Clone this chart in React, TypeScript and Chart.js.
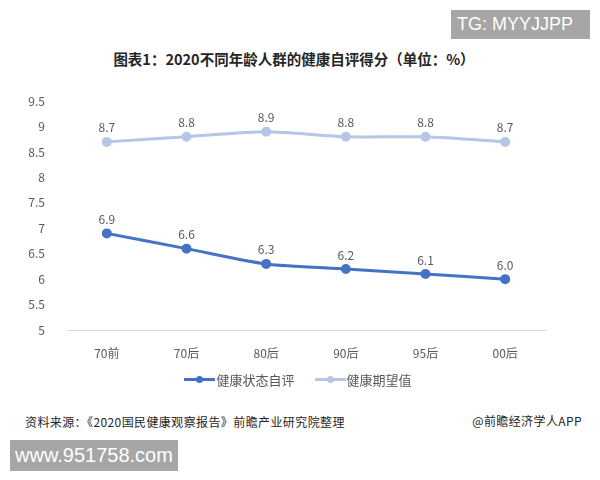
import { useEffect, useRef } from "react";
import Chart from "chart.js/auto";

const categories = ["70前", "70后", "80后", "90后", "95后", "00后"];
const selfRated = [6.9, 6.6, 6.3, 6.2, 6.1, 6.0];
const expected = [8.7, 8.8, 8.9, 8.8, 8.8, 8.7];
const yTicks = { min: 5, max: 9.5, step: 0.5 };

const DARK = "#4472c4";
const LIGHT = "#b4c7e7";
const FONT = "'Noto Sans CJK SC', 'Microsoft YaHei', sans-serif";

const valueLabels = {
  id: "valueLabels",
  afterDatasetsDraw(chart: Chart) {
    const { ctx } = chart;
    ctx.save();
    ctx.fillStyle = "#595959";
    ctx.font = `12px ${FONT}`;
    ctx.textAlign = "center";
    ctx.textBaseline = "bottom";
    chart.data.datasets.forEach((ds, i) => {
      const meta = chart.getDatasetMeta(i);
      meta.data.forEach((pt, j) => {
        const v = ds.data[j] as number;
        ctx.fillText(v.toFixed(1), pt.x, pt.y - 8);
      });
    });
    ctx.restore();
  },
};

function LegendItem({ color, label }: { color: string; label: string }) {
  return (
    <span style={{ display: "inline-flex", alignItems: "center", margin: "0 10px" }}>
      <span style={{ position: "relative", width: 31, height: 3, background: color, display: "inline-block" }}>
        <span
          style={{
            position: "absolute",
            left: 12,
            top: -2,
            width: 7,
            height: 7,
            borderRadius: "50%",
            background: color,
          }}
        />
      </span>
      <span style={{ marginLeft: 1 }}>{label}</span>
    </span>
  );
}

export default function App() {
  const ref = useRef<HTMLCanvasElement>(null);

  useEffect(() => {
    if (!ref.current) return;
    const chart = new Chart(ref.current, {
      type: "line",
      data: {
        labels: categories,
        datasets: [
          {
            label: "健康状态自评",
            data: selfRated,
            borderColor: DARK,
            backgroundColor: DARK,
            borderWidth: 3,
            pointRadius: 3.5,
            pointBackgroundColor: DARK,
            pointBorderColor: DARK,
            tension: 0.25,
          },
          {
            label: "健康期望值",
            data: expected,
            borderColor: LIGHT,
            backgroundColor: LIGHT,
            borderWidth: 3,
            pointRadius: 3.5,
            pointBackgroundColor: LIGHT,
            pointBorderColor: LIGHT,
            tension: 0.25,
          },
        ],
      },
      options: {
        animation: false,
        responsive: false,
        layout: { padding: { top: 15, right: 55, bottom: 0, left: 0 } },
        plugins: { legend: { display: false }, tooltip: { enabled: false } },
        scales: {
          x: {
            offset: true,
            grid: { display: false },
            border: { color: "#d9d9d9", width: 1 },
            ticks: { color: "#595959", font: { size: 12, family: FONT }, padding: 8 },
            afterFit: (s) => {
              s.height = 40;
            },
          },
          y: {
            min: yTicks.min,
            max: yTicks.max,
            grid: { display: false },
            border: { display: false },
            ticks: {
              stepSize: yTicks.step,
              color: "#595959",
              font: { size: 12, family: FONT },
              padding: 14,
              callback: (v) => String(Math.round(Number(v) * 10) / 10),
            },
            afterFit: (s) => {
              s.width = 67;
            },
          },
        },
      },
      plugins: [valueLabels],
    });
    return () => chart.destroy();
  }, []);

  return (
    <div
      style={{
        position: "fixed",
        left: 0,
        top: 0,
        width: 600,
        height: 480,
        background: "#fff",
        fontFamily: FONT,
        overflow: "hidden",
      }}
    >
      <div
        style={{
          position: "absolute",
          left: 451,
          top: 10,
          width: 139,
          height: 29,
          background: "#a6a6a6",
          color: "#fff",
          fontSize: 18,
          fontFamily: "'Liberation Sans', Arial, sans-serif",
          lineHeight: "29px",
          paddingLeft: 6,
          boxSizing: "border-box",
        }}
      >
        TG: MYYJJPP
      </div>
      <div
        style={{
          position: "absolute",
          left: 0,
          top: 48,
          width: 588,
          textAlign: "center",
          fontSize: 14.5,
          fontWeight: "bold",
          color: "#262626",
        }}
      >
        图表1：2020不同年龄人群的健康自评得分（单位：%）
      </div>
      <canvas ref={ref} width={600} height={290} style={{ position: "absolute", left: 0, top: 80 }} />
      <div
        style={{
          position: "absolute",
          left: 0,
          top: 366,
          width: 596,
          textAlign: "center",
          fontSize: 13,
          color: "#595959",
        }}
      >
        <LegendItem color={DARK} label="健康状态自评" />
        <LegendItem color={LIGHT} label="健康期望值" />
      </div>
      <div
        style={{ position: "absolute", left: 25, top: 413, fontSize: 12, letterSpacing: 0.4, color: "#262626" }}
      >
        资料来源：《2020国民健康观察报告》前瞻产业研究院整理
      </div>
      <div
        style={{ position: "absolute", right: 18, top: 412, fontSize: 12, letterSpacing: 0.4, color: "#262626" }}
      >
        @前瞻经济学人APP
      </div>
      <div
        style={{
          position: "absolute",
          left: 10,
          top: 440,
          width: 168,
          height: 31,
          background: "#a6a6a6",
          color: "#fff",
          fontSize: 20,
          fontFamily: "'Liberation Sans', Arial, sans-serif",
          lineHeight: "31px",
          paddingLeft: 5,
          boxSizing: "border-box",
        }}
      >
        www.951758.com
      </div>
    </div>
  );
}
